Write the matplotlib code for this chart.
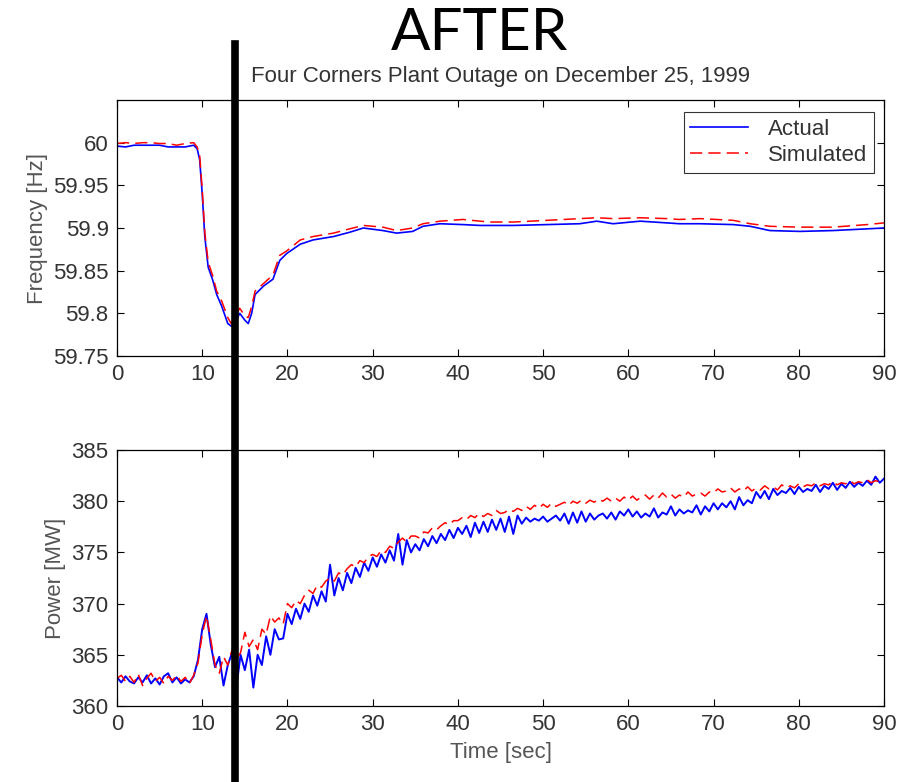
import matplotlib
matplotlib.use("Agg")
import matplotlib.pyplot as plt
from matplotlib.lines import Line2D
import matplotlib.transforms as mtransforms

plt.rcParams['font.family'] = ['Liberation Sans', 'DejaVu Sans']

# ---------------- data ----------------
freq_time = [0, 1, 2, 3, 4, 5, 6, 7, 8, 9, 9.4, 9.7, 10.0, 10.3, 10.7, 11.2, 11.7, 12.3,
             13.0, 13.4, 13.8, 14.4, 15.0, 15.4, 15.8, 16.2, 17.2, 18.3, 19.1, 19.9, 21.5,
             23, 25.4, 27.3, 28.9, 31.2, 32.8, 34.7, 35.9, 37.9, 40.6, 42.6, 43.8, 46.5,
             50.5, 54.3, 56.3, 58.2, 61.4, 64.5, 66, 68.4, 72.3, 74.3, 76.6, 80.1, 84, 88, 90]
freq_actual = [59.996, 59.995, 59.997, 59.997, 59.997, 59.997, 59.995, 59.995, 59.995, 59.997,
               59.993, 59.980, 59.940, 59.890, 59.854, 59.840, 59.822, 59.808, 59.788, 59.785,
               59.788, 59.800, 59.792, 59.788, 59.800, 59.822, 59.832, 59.840, 59.862, 59.870,
               59.881, 59.886, 59.890, 59.895, 59.900, 59.897, 59.894, 59.896, 59.902, 59.905,
               59.904, 59.903, 59.903, 59.903, 59.904, 59.905, 59.908, 59.905, 59.908, 59.906,
               59.905, 59.905, 59.904, 59.902, 59.897, 59.896, 59.897, 59.899, 59.900]
freq_sim = [59.999, 60.000, 59.999, 60.000, 60.000, 59.999, 59.999, 59.997, 59.999, 60.000,
            59.995, 59.985, 59.945, 59.895, 59.860, 59.845, 59.826, 59.814, 59.795, 59.788,
            59.795, 59.806, 59.797, 59.795, 59.808, 59.826, 59.835, 59.845, 59.868, 59.873,
            59.886, 59.890, 59.894, 59.899, 59.903, 59.901, 59.897, 59.900, 59.905, 59.908,
            59.910, 59.908, 59.907, 59.907, 59.909, 59.911, 59.912, 59.911, 59.912, 59.911,
            59.910, 59.911, 59.909, 59.905, 59.902, 59.901, 59.901, 59.904, 59.906]

power_time = [i * 0.5 for i in range(181)]
power_actual = [
    362.8, 362.3, 362.9, 362.4, 362.2, 362.8, 362.3, 363.0, 362.2, 362.7,   # 0-4.5
    362.1, 362.9, 363.2, 362.3, 362.8, 362.2, 362.6, 362.3, 362.9, 364.5,   # 5-9.5
    367.5, 369.0, 366.0, 363.8, 364.8, 362.0, 364.0, 365.2, 361.8, 365.0,   # 10-14.5
    363.5, 365.5, 361.8, 365.0, 364.0, 366.8, 365.0, 367.5, 366.5, 366.6,   # 15-19.5
    369.0, 368.0, 369.5, 368.5, 370.0, 369.2, 370.8, 369.8, 371.2, 370.2,   # 20-24.5
    373.8, 370.8, 372.5, 371.3, 373.0, 372.0, 373.5, 372.6, 374.0, 373.2,   # 25-29.5
    374.5, 373.6, 374.8, 374.0, 375.2, 374.2, 376.8, 373.8, 376.2, 375.0,   # 30-34.5
    375.8, 375.2, 376.3, 375.6, 376.6, 375.9, 376.8, 376.2, 377.2, 376.4,   # 35-39.5
    377.4, 376.8, 377.6, 376.5, 377.9, 376.9, 378.0, 377.0, 378.2, 377.2,   # 40-44.5
    378.3, 377.0, 378.5, 376.8, 378.6, 377.8, 378.4, 378.0, 378.3, 378.1,   # 45-49.5
    378.5, 378.0, 378.3, 378.6, 378.1, 378.8, 377.8, 378.9, 377.9, 379.0,   # 50-54.5
    378.0, 378.8, 378.2, 378.6, 378.8, 378.3, 378.9, 378.2, 379.0, 378.6,   # 55-59.5
    379.2, 378.5, 379.0, 378.4, 378.8, 378.5, 379.3, 378.4, 378.9, 378.7,   # 60-64.5
    379.5, 378.6, 379.2, 378.8, 379.1, 378.9, 379.6, 378.7, 379.5, 379.0,   # 65-69.5
    379.8, 379.2, 379.8, 379.4, 380.0, 379.2, 380.4, 379.6, 380.1, 379.8,   # 70-74.5
    380.9, 380.3, 381.0, 380.2, 381.2, 380.6, 381.0, 380.8, 381.3, 380.7,   # 75-79.5
    381.4, 380.9, 381.2, 381.0, 381.6, 380.9, 381.5, 381.2, 381.8, 381.1,   # 80-84.5
    381.7, 381.3, 381.9, 381.4, 381.8, 381.5, 382.0, 381.6, 382.4, 381.8,   # 85-89.5
    382.2]
power_sim = [
    362.7, 363.0, 362.4, 362.9, 362.3, 363.1, 362.0, 362.7, 363.2, 362.4,   # 0-4.5
    362.8, 362.2, 362.9, 362.5, 363.0, 362.4, 362.8, 362.2, 363.0, 364.2,   # 5-9.5
    367.0, 368.8, 366.5, 364.0, 363.2, 364.8, 364.0, 365.5, 364.6, 365.2,   # 10-14.5
    367.2, 365.8, 366.5, 365.5, 367.5, 367.0, 368.8, 368.2, 368.6, 368.0,   # 15-19.5
    370.0, 369.6, 370.3, 370.0, 370.8, 371.3, 371.0, 371.8, 371.6, 372.2,   # 20-24.5
    372.5, 372.2, 373.0, 372.8, 373.4, 373.8, 373.6, 374.2, 374.0, 374.6,   # 25-29.5
    374.8, 374.6, 375.2, 375.0, 375.6, 375.4, 376.0, 376.4, 376.0, 376.6,   # 30-34.5
    376.6, 376.4, 377.0, 376.9, 377.4, 377.2, 377.6, 377.9, 377.7, 378.1,   # 35-39.5
    378.1, 378.4, 378.2, 378.6, 378.4, 378.8, 378.5, 378.8, 378.6, 379.1,   # 40-44.5
    378.8, 378.9, 379.2, 379.0, 379.3, 379.1, 379.5, 379.2, 379.6, 379.3,   # 45-49.5
    379.7, 379.4, 379.8, 379.5, 379.7, 379.9, 379.6, 380.0, 379.8, 380.1,   # 50-54.5
    379.8, 380.1, 379.9, 380.2, 380.0, 380.3, 380.0, 380.3, 380.0, 380.4,   # 55-59.5
    380.1, 380.5, 380.1, 380.4, 380.6, 380.2, 380.6, 380.3, 380.8, 380.4,   # 60-64.5
    380.7, 380.3, 380.6, 380.4, 380.9, 380.5, 380.7, 380.8, 380.5, 380.9,   # 65-69.5
    380.8, 381.2, 380.9, 381.0, 381.3, 380.9, 381.2, 381.0, 381.4, 381.0,   # 70-74.5
    381.3, 381.1, 381.5, 381.2, 381.4, 381.1, 381.6, 381.3, 381.5, 381.3,   # 75-79.5
    381.7, 381.4, 381.6, 381.5, 381.8, 381.5, 381.7, 381.6, 381.9, 381.6,   # 80-84.5
    381.8, 381.7, 382.0, 381.7, 381.9, 381.8, 382.1, 381.8, 382.0, 381.9,   # 85-89.5
    382.0]

marker_time = 13.85

main_title = "AFTER"
sub_title = "Four Corners Plant Outage on December 25, 1999"
series_names = ["Actual", "Simulated"]
x_ticks = [0, 10, 20, 30, 40, 50, 60, 70, 80, 90]
freq_ticks = [59.75, 59.8, 59.85, 59.9, 59.95, 60]
freq_tick_labels = ["59.75", "59.8", "59.85", "59.9", "59.95", "60"]
power_ticks = [360, 365, 370, 375, 380, 385]

# ---------------- figure ----------------
fig = plt.figure(figsize=(9, 7.82), dpi=100)
W, H = 900, 782
ax1 = fig.add_axes([117 / W, 1 - 356 / H, 767 / W, 256 / H])
ax2 = fig.add_axes([117 / W, 1 - 706 / H, 767 / W, 256 / H])

txt_col = '#333333'
lab_col = '#555555'
fs = 16

for ax in (ax1, ax2):
    ax.tick_params(direction='in', length=5, width=0.8, top=True, right=True,
                   labelsize=fs, labelcolor=txt_col, pad=6)
    for s in ax.spines.values():
        s.set_linewidth(0.9)
    ax.set_xlim(0, 90)
    ax.set_xticks(x_ticks)

ax1.plot(freq_time, freq_actual, color='#0000ff', lw=1.2, label=series_names[0])
ax1.plot(freq_time, freq_sim, color='#ff0000', lw=1.1, ls=(0, (8, 4)), label=series_names[1])
ax1.set_ylim(59.75, 60.05)
ax1.set_yticks(freq_ticks)
ax1.set_yticklabels(freq_tick_labels)
ax1.set_ylabel("Frequency [Hz]", fontsize=fs, color=lab_col, labelpad=4)
leg = ax1.legend(loc='upper right', bbox_to_anchor=(0.987, 0.953), fontsize=16,
                 frameon=True, fancybox=False, handlelength=2.6, borderpad=0.3,
                 labelspacing=0.25, handletextpad=0.9, borderaxespad=0.0)
leg.get_frame().set_edgecolor('black')
leg.get_frame().set_linewidth(0.8)
for t in leg.get_texts():
    t.set_color(txt_col)

ax2.plot(power_time, power_actual, color='#0000ff', lw=1.4)
ax2.plot(power_time, power_sim, color='#ff0000', lw=1.1, ls=(0, (8, 4)))
ax2.set_ylim(360, 385)
ax2.set_yticks(power_ticks)
ax2.set_ylabel("Power [MW]", fontsize=fs, color=lab_col, labelpad=4)
ax2.set_xlabel("Time [sec]", fontsize=fs, color=lab_col, labelpad=5)

fig.text(480 / W, 1 - 33 / H, main_title, ha='center', va='center', fontsize=42,
         family=['Lato', 'DejaVu Sans'], color='black')
ax1.set_title(sub_title, fontsize=16, color=txt_col, pad=13)

# thick vertical marker line spanning the figure
trans = mtransforms.blended_transform_factory(ax1.transData, fig.transFigure)
vline = Line2D([marker_time, marker_time], [0, 1 - 44 / H], transform=trans,
               color='black', lw=5.5, clip_on=False, zorder=10)
fig.add_artist(vline)

fig.savefig("out.png", dpi=100)
